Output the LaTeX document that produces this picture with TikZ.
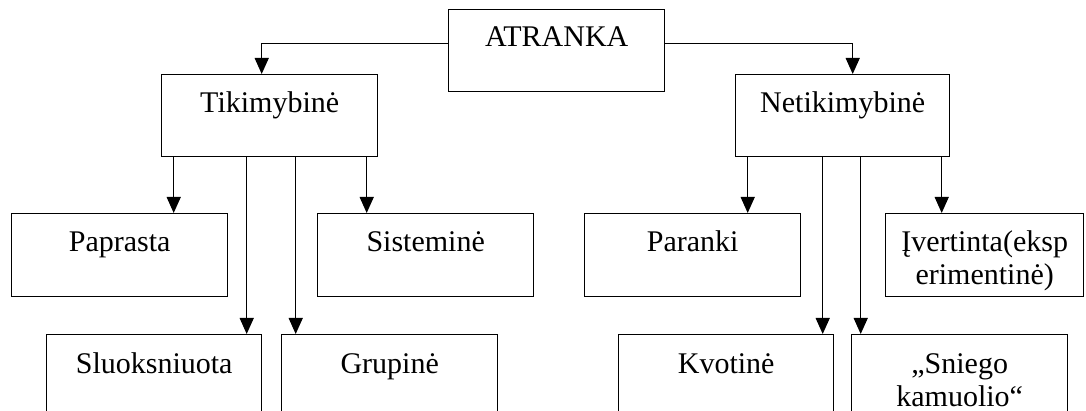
\documentclass[tikz,border=0pt]{standalone}
\usepackage{fontspec}
\setmainfont{Liberation Serif}
\usetikzlibrary{arrows.meta,calc}
\begin{document}
\begin{tikzpicture}[x=1pt,y=-1pt,
  box/.style={draw, line width=1.4pt, rectangle, minimum height=83pt, minimum width=216pt, inner sep=0pt, anchor=north west},
  lbl/.style={font=\fontsize{30}{33}\selectfont, inner sep=0pt, anchor=base},
  conn/.style={line width=1.3pt, -{Triangle[length=16pt,width=14pt]}}
]
\useasboundingbox (0,0) rectangle (1086,411);
\clip (0,0) rectangle (1086,411);
\fill[white] (0,0) rectangle (1086,411);

% boxes
\node[box, minimum height=82pt] (atr) at (448,9) {};
\node[box, minimum height=82pt] (tik) at (161,74) {};
\node[box, minimum height=82pt, minimum width=214pt] (net) at (735,74) {};
\node[box] (pap) at (11,213) {};
\node[box] (sis) at (317,213) {};
\node[box] (par) at (584,213) {};
\node[box, minimum width=198pt] (ive) at (885,213) {};
\node[box, minimum width=215pt] (slu) at (46,334) {};
\node[box] (gru) at (281,334) {};
\node[box, minimum width=215pt] (kvo) at (618,334) {};
\node[box] (sni) at (851,334) {};

% labels
\node[lbl] (atrT) at ([yshift=-38pt]atr.north) {ATRANKA};
\node[lbl] (tikT) at ([yshift=-39pt]tik.north) {Tikimybinė};
\node[lbl] (netT) at ([yshift=-39pt]net.north) {Netikimybinė};
\node[lbl] (papT) at ([yshift=-39pt]pap.north) {Paprasta};
\node[lbl] (sisT) at ([yshift=-39pt]sis.north) {Sisteminė};
\node[lbl] (parT) at ([yshift=-39pt]par.north) {Paranki};
\node[lbl] (iveT) at ([yshift=-39pt]ive.north) {\begin{tabular}[t]{@{}c@{}}Įvertinta(eksp\\erimentinė)\end{tabular}};
\node[lbl] (sluT) at ([yshift=-39pt]slu.north) {Sluoksniuota};
\node[lbl] (gruT) at ([yshift=-39pt]gru.north) {Grupinė};
\node[lbl] (kvoT) at ([yshift=-39pt]kvo.north) {Kvotinė};
\node[lbl] (sniT) at ([yshift=-39pt]sni.north) {\begin{tabular}[t]{@{}c@{}}„Sniego\\kamuolio“\end{tabular}};

% connectors
\draw[conn] ([yshift=7pt]atr.west) -| ([xshift=-8pt]tik.north);
\draw[conn] ([yshift=7pt]atr.east) -| ([xshift=10pt]net.north);

\draw[conn] ([xshift=-96pt]tik.south) -- ([xshift=-96pt]tik.south |- pap.north);
\draw[conn] ([xshift=-23pt]tik.south) -- ([xshift=-23pt]tik.south |- slu.north);
\draw[conn] ([xshift=26pt]tik.south) -- ([xshift=26pt]tik.south |- gru.north);
\draw[conn] ([xshift=97pt]tik.south) -- ([xshift=97pt]tik.south |- sis.north);

\draw[conn] ([xshift=-95pt]net.south) -- ([xshift=-95pt]net.south |- par.north);
\draw[conn] ([xshift=-20pt]net.south) -- ([xshift=-20pt]net.south |- kvo.north);
\draw[conn] ([xshift=18pt]net.south) -- ([xshift=18pt]net.south |- sni.north);
\draw[conn] ([xshift=99pt]net.south) -- ([xshift=99pt]net.south |- ive.north);
\end{tikzpicture}
\end{document}
